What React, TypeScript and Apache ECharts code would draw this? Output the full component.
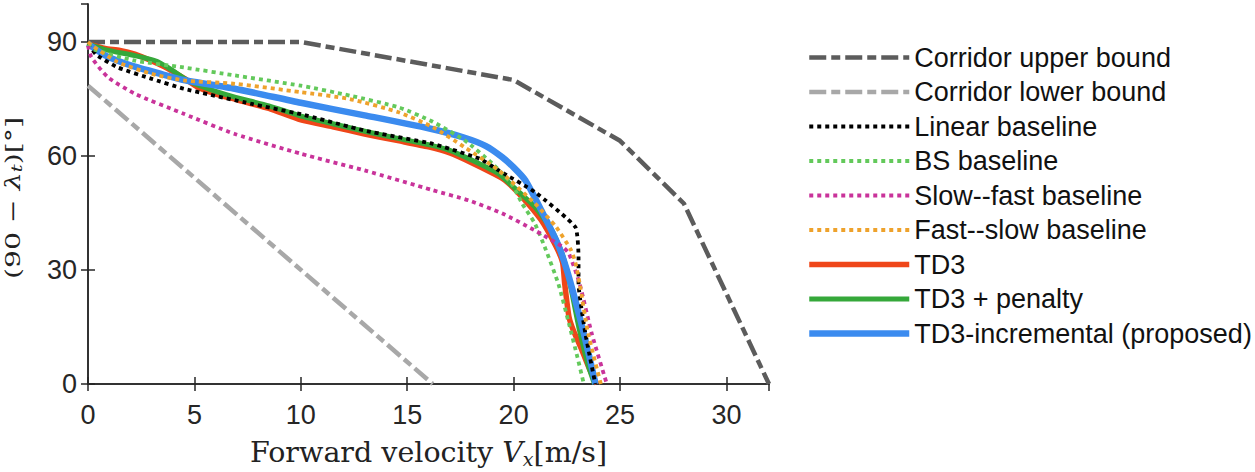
import React, { useEffect, useRef } from "react";
import * as echarts from "echarts";

const xMin = 0;
const xMax = 32;
const xInterval = 5;
const yMin = 0;
const yMax = 100;
const yInterval = 30;

const corridorUpper = [[0, 90], [10, 90], [20, 80], [25, 64], [28, 47.5], [32, 0]];
const corridorLower = [[0, 78.5], [16.2, 0]];
const linearBaseline = [
  [0, 89.5], [0.4, 86.6], [1.4, 83.3], [3, 80.3], [4.5, 77.7], [7.7, 73.7], [10, 71],
  [13, 66.7], [16.2, 63.2], [18.4, 59.3], [19.3, 56.2], [21, 50.5], [22.9, 41.3],
  [23.05, 33.4], [23.05, 26.4], [23.37, 13.3], [23.84, 0],
];
const bsBaseline = [
  [0, 89.5], [0.3, 88], [2.2, 85.1], [4.5, 83.3], [6.9, 81.2], [10, 78.5], [12.3, 75.9],
  [14.6, 72.8], [16.2, 69], [17.7, 64.1], [19, 58], [19.9, 52.7], [20.4, 47.5], [21, 42.2],
  [21.5, 35.5], [22.1, 26.4], [22.6, 15.9], [23, 7], [23.3, 0],
];
const slowFastBaseline = [
  [0, 89], [0.16, 86], [0.94, 80.7], [2.2, 76.4], [4.5, 71.1], [6.9, 65.8], [10, 60.6],
  [13, 56.2], [16.2, 51], [17.9, 48.3], [19.5, 44.8], [21, 40.4], [22.3, 36.1], [22.6, 34.3],
  [23.1, 26.4], [23.67, 13.3], [24.38, 0],
];
const fastSlowBaseline = [
  [0, 90], [0.2, 89], [1.4, 84.7], [3, 81.6], [4.5, 79.9], [6.9, 79], [10, 76.8],
  [12.3, 75], [14.6, 71.5], [16.2, 67.6], [17.7, 62.3], [19.3, 56.2], [21, 47.5],
  [22, 41.3], [22.7, 35.2], [22.9, 32], [23.1, 26.5], [23.5, 13.3], [24.1, 0],
];
const td3 = [
  [0, 89.5], [0.8, 88.3], [1.5, 87.8], [2.2, 86.8], [3, 85], [3.75, 83], [4.5, 80.5],
  [5.2, 78], [6, 76.3], [7, 74.8], [8.5, 72.5], [10, 69.5], [11.5, 67.7], [13, 65.8],
  [14.5, 64.1], [16, 62.4], [17, 60.8], [18, 58.3], [19, 55.5], [19.6, 53.6], [20.4, 49.2],
  [21.3, 43.1], [22, 36.1], [22.3, 32], [22.4, 26.4], [22.6, 17.7], [22.8, 14.2],
  [23.2, 9], [23.6, 3.5], [23.9, 0],
];
const td3Penalty = [
  [0, 89.5], [0.8, 88], [2.2, 86.4], [3.2, 85], [3.75, 83.3], [4.5, 80.5], [5, 79],
  [6, 77], [6.9, 75.5], [8.5, 73.2], [10, 70.5], [11.5, 68.5], [13, 66.5], [14.5, 64.7],
  [16, 63], [17, 61.5], [18, 59], [19.3, 55.3], [19.9, 52.3], [21, 46.6], [21.8, 40.4],
  [22.3, 34], [22.7, 25], [23.1, 14], [23.5, 5], [23.8, 0],
];
const td3Incremental = [
  [0, 89.5], [0.8, 86.5], [2.2, 83.5], [3.5, 81.5], [4.5, 80], [6.9, 77.7], [10, 74],
  [13, 70.7], [16, 67.3], [17.7, 64.8], [18.7, 62.6], [19.46, 59.7], [20, 57], [20.55, 53.6],
  [21.3, 45.7], [22.1, 36.5], [22.5, 30], [22.9, 22], [23.3, 13.3], [23.85, 0],
];

const legendNames = [
  "Corridor upper bound",
  "Corridor lower bound",
  "Linear baseline",
  "BS baseline",
  "Slow--fast baseline",
  "Fast--slow baseline",
  "TD3",
  "TD3 + penalty",
  "TD3-incremental (proposed)",
];

const xTitle = "{n|Forward velocity }{i|V}{s|x}{n|[m/s]}";
const yTitle = "{n|(90 − }{i|λ}{s|t}{n|)[°]}";

const SANS = "'Liberation Sans', Arial, sans-serif";
const SERIF = "'DejaVu Serif', 'Liberation Serif', serif";
const DOT = [4, 4];
const DASHDOT = [17, 5, 9, 5];

function line(name: string, data: number[][], color: string, width: number, type: any, z: number, smooth: number | boolean) {
  return {
    type: "line",
    name,
    data,
    symbol: "none",
    smooth,
    z,
    silent: true,
    itemStyle: { color },
    lineStyle: { color, width, type, cap: "butt", join: "round" },
  };
}

const xRich = {
  n: { fontSize: 28.5, fontFamily: SERIF, color: "#222" },
  i: { fontSize: 28.5, fontFamily: SERIF, fontStyle: "italic", color: "#222" },
  s: { fontSize: 19, fontFamily: SERIF, fontStyle: "italic", color: "#222", padding: [12, 0, 0, 0] },
};
const yRich = {
  n: { fontSize: 21, fontFamily: SERIF, fill: "#222", color: "#222" },
  i: { fontSize: 21, fontFamily: SERIF, fontStyle: "italic", fill: "#222", color: "#222" },
  s: { fontSize: 14.5, fontFamily: SERIF, fontStyle: "italic", fill: "#222", color: "#222", padding: [9, 0, 0, 0] },
};

export default function App() {
  const ref = useRef<HTMLDivElement>(null);
  useEffect(() => {
    const chart = echarts.init(ref.current!, null, { renderer: "svg" });
    const axisLine = { show: true, lineStyle: { color: "#262626", width: 1.5 } };
    const tick = { show: true, inside: true, length: 7, lineStyle: { color: "#262626", width: 1.5 } };
    chart.setOption({
      animation: false,
      backgroundColor: "#ffffff",
      grid: { left: 88, right: 486, top: 4, bottom: 88, containLabel: false, outerBoundsMode: "none" },
      legend: {
        show: true,
        orient: "vertical",
        left: 806,
        top: 44,
        padding: 0,
        itemWidth: 100,
        itemHeight: 20,
        itemGap: 7.5,
        data: legendNames,
        itemStyle: { color: "rgba(0,0,0,0)", borderWidth: 0, opacity: 0 },
        lineStyle: { width: "inherit" },
        textStyle: { fontSize: 27, fontFamily: SANS, color: "#111" },
      },
      graphic: [
        {
          type: "text",
          x: 12.5,
          y: 198,
          rotation: Math.PI / 2,
          scaleX: 1.35,
          silent: true,
          style: {
            text: yTitle,
            rich: yRich,
            align: "center",
            verticalAlign: "middle",
            fill: "#222",
          },
        },
      ],
      xAxis: [
        {
          type: "value",
          min: xMin,
          max: xMax,
          interval: xInterval,
          position: "bottom",
          axisLine,
          axisTick: tick,
          splitLine: { show: false },
          axisLabel: { fontSize: 27, fontFamily: SANS, color: "#262626", margin: 17, showMaxLabel: false },
          name: xTitle,
          nameLocation: "middle",
          nameGap: 53,
          nameTextStyle: { rich: xRich },
        },
        {
          type: "value",
          min: xMin,
          max: xMax,
          interval: xInterval,
          position: "top",
          axisLine,
          axisTick: tick,
          splitLine: { show: false },
          axisLabel: { show: false },
        },
      ],
      yAxis: [
        {
          type: "value",
          min: yMin,
          max: yMax,
          interval: yInterval,
          position: "left",
          axisLine,
          axisTick: tick,
          splitLine: { show: false },
          axisLabel: { fontSize: 27, fontFamily: SANS, color: "#262626", margin: 11, showMaxLabel: false },
        },
        {
          type: "value",
          min: yMin,
          max: yMax,
          interval: yInterval,
          position: "right",
          axisLine,
          axisTick: tick,
          splitLine: { show: false },
          axisLabel: { show: false },
        },
      ],
      series: [
        line(legendNames[0], corridorUpper, "#5c5c5c", 4.5, DASHDOT, 2, false),
        line(legendNames[1], corridorLower, "#a8a8a8", 4.5, DASHDOT, 2, false),
        line(legendNames[6], td3, "#ef4619", 5.5, "solid", 3, 0.2),
        line(legendNames[7], td3Penalty, "#35a83a", 5, "solid", 4, 0.2),
        line(legendNames[8], td3Incremental, "#3b8bef", 6.5, "solid", 5, 0.2),
        line(legendNames[2], linearBaseline, "#000000", 3.8, DOT, 6, 0.15),
        line(legendNames[3], bsBaseline, "#63c95b", 3.8, DOT, 6, 0.2),
        line(legendNames[4], slowFastBaseline, "#c9339a", 3.8, DOT, 6, 0.2),
        line(legendNames[5], fastSlowBaseline, "#eea22c", 3.8, DOT, 6, 0.2),
      ],
    });
    return () => chart.dispose();
  }, []);
  return (
    <div
      ref={ref}
      style={{ position: "absolute", left: 0, top: 0, width: 1255, height: 472, background: "#fff" }}
    />
  );
}
